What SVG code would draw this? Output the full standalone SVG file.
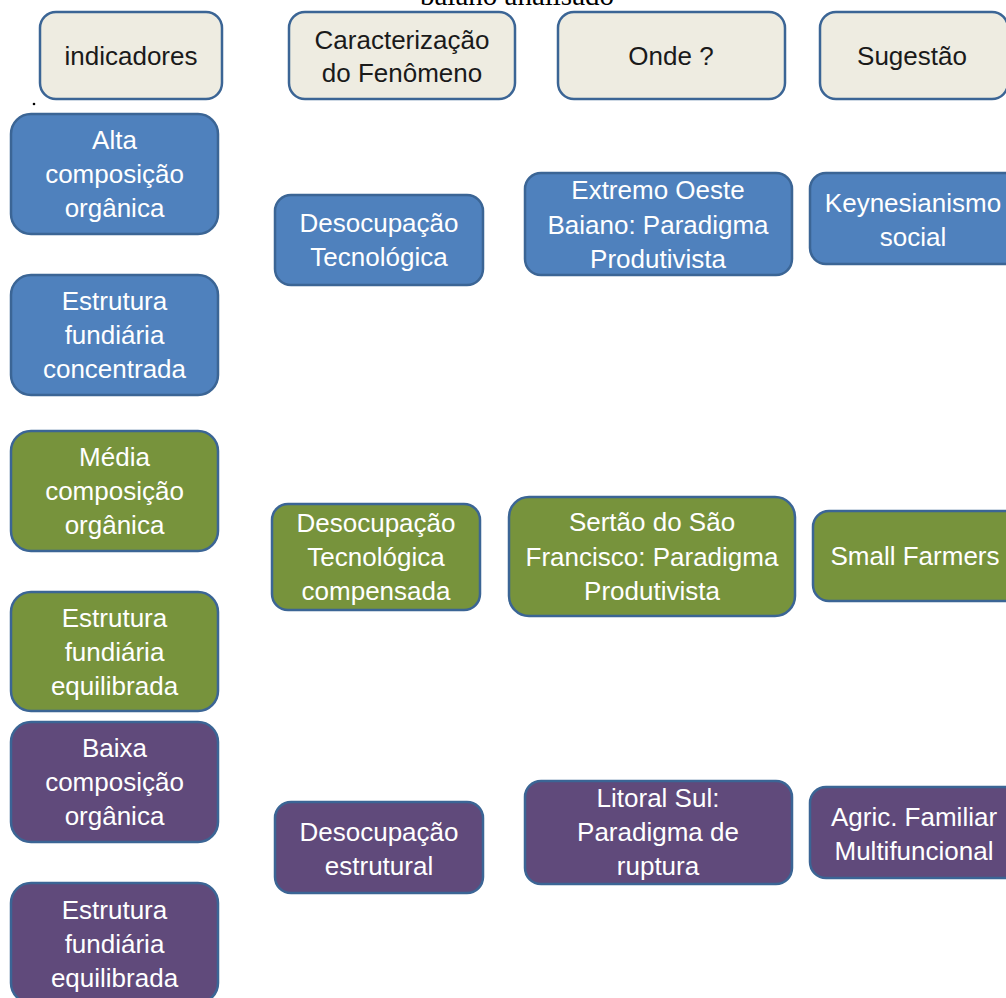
<svg xmlns="http://www.w3.org/2000/svg" width="1006" height="998" viewBox="0 0 1006 998">
<style>
.box{stroke:#3B6595;stroke-width:2.5}
.hd{fill:#EEECE1}
.bl{fill:#4F81BD}
.gr{fill:#77933C}
.pu{fill:#604A7B}
text{font-family:"Liberation Sans",Arial,sans-serif;font-size:26px;text-anchor:middle}
.w{fill:#FFFFFF}
.k{fill:#1A1A1A}
.title{font-family:"Liberation Serif","Times New Roman",serif;font-size:29px;fill:#000}
</style>
<rect width="1006" height="998" fill="#FFFFFF"/>
<text class="title" x="517" y="5">baiano analisado</text>
<circle cx="34" cy="104" r="1.3" fill="#000"/>
<g id="connectors"></g>
<g id="h-indicadores"><rect class="box hd" x="40" y="12" width="182" height="87" rx="16"/><text class="k" x="131" y="65">indicadores</text></g>
<g id="h-caracterizacao"><rect class="box hd" x="289" y="12" width="226" height="87" rx="16"/><text class="k" x="402" y="49">Caracterização</text><text class="k" x="402" y="82">do Fenômeno</text></g>
<g id="h-onde"><rect class="box hd" x="558" y="12" width="227" height="87" rx="16"/><text class="k" x="671" y="65">Onde ?</text></g>
<g id="h-sugestao"><rect class="box hd" x="820" y="12" width="188" height="87" rx="16"/><text class="k" x="912" y="65">Sugestão</text></g>

<g id="alta"><rect class="box bl" x="11" y="114" width="207" height="120" rx="20"/><text class="w" x="114.5" y="149">Alta</text><text class="w" x="114.5" y="183">composição</text><text class="w" x="114.5" y="217">orgânica</text></g>
<g id="estrutura-concentrada"><rect class="box bl" x="11" y="275" width="207" height="120" rx="20"/><text class="w" x="114.5" y="310">Estrutura</text><text class="w" x="114.5" y="344">fundiária</text><text class="w" x="114.5" y="378">concentrada</text></g>
<g id="media"><rect class="box gr" x="11" y="431" width="207" height="120" rx="20"/><text class="w" x="114.5" y="466">Média</text><text class="w" x="114.5" y="500">composição</text><text class="w" x="114.5" y="534">orgânica</text></g>
<g id="estrutura-equilibrada-g"><rect class="box gr" x="11" y="592" width="207" height="119" rx="20"/><text class="w" x="114.5" y="627">Estrutura</text><text class="w" x="114.5" y="661">fundiária</text><text class="w" x="114.5" y="695">equilibrada</text></g>
<g id="baixa"><rect class="box pu" x="11" y="722" width="207" height="120" rx="20"/><text class="w" x="114.5" y="757">Baixa</text><text class="w" x="114.5" y="791">composição</text><text class="w" x="114.5" y="825">orgânica</text></g>
<g id="estrutura-equilibrada-p"><rect class="box pu" x="11" y="883" width="207" height="120" rx="20"/><text class="w" x="114.5" y="919">Estrutura</text><text class="w" x="114.5" y="953">fundiária</text><text class="w" x="114.5" y="987">equilibrada</text></g>

<g id="desoc-tec"><rect class="box bl" x="275" y="195" width="208" height="90" rx="16"/><text class="w" x="379" y="232">Desocupação</text><text class="w" x="379" y="266">Tecnológica</text></g>
<g id="desoc-comp"><rect class="box gr" x="272" y="504" width="208" height="106" rx="16"/><text class="w" x="376" y="532">Desocupação</text><text class="w" x="376" y="566">Tecnológica</text><text class="w" x="376" y="600">compensada</text></g>
<g id="desoc-estr"><rect class="box pu" x="275" y="802" width="208" height="91" rx="16"/><text class="w" x="379" y="841">Desocupação</text><text class="w" x="379" y="875">estrutural</text></g>

<g id="extremo-oeste"><rect class="box bl" x="525" y="173" width="267" height="102" rx="16"/><text class="w" x="658" y="199">Extremo Oeste</text><text class="w" x="658" y="234">Baiano: Paradigma</text><text class="w" x="658" y="268">Produtivista</text></g>
<g id="sertao"><rect class="box gr" x="509" y="497" width="286" height="119" rx="20"/><text class="w" x="652" y="531">Sertão do São</text><text class="w" x="652" y="566">Francisco: Paradigma</text><text class="w" x="652" y="600">Produtivista</text></g>
<g id="litoral-sul"><rect class="box pu" x="525" y="781" width="267" height="103" rx="16"/><text class="w" x="658" y="807">Litoral Sul:</text><text class="w" x="658" y="841">Paradigma de</text><text class="w" x="658" y="875">ruptura</text></g>

<g id="keynesianismo"><rect class="box bl" x="810" y="173" width="210" height="91" rx="16"/><text class="w" x="913" y="212">Keynesianismo</text><text class="w" x="913" y="246">social</text></g>
<g id="small-farmers"><rect class="box gr" x="813" y="511" width="210" height="90" rx="16"/><text class="w" x="915" y="565">Small Farmers</text></g>
<g id="agric-familiar"><rect class="box pu" x="810" y="787" width="210" height="91" rx="16"/><text class="w" x="914" y="826">Agric. Familiar</text><text class="w" x="914" y="860">Multifuncional</text></g>
</svg>
